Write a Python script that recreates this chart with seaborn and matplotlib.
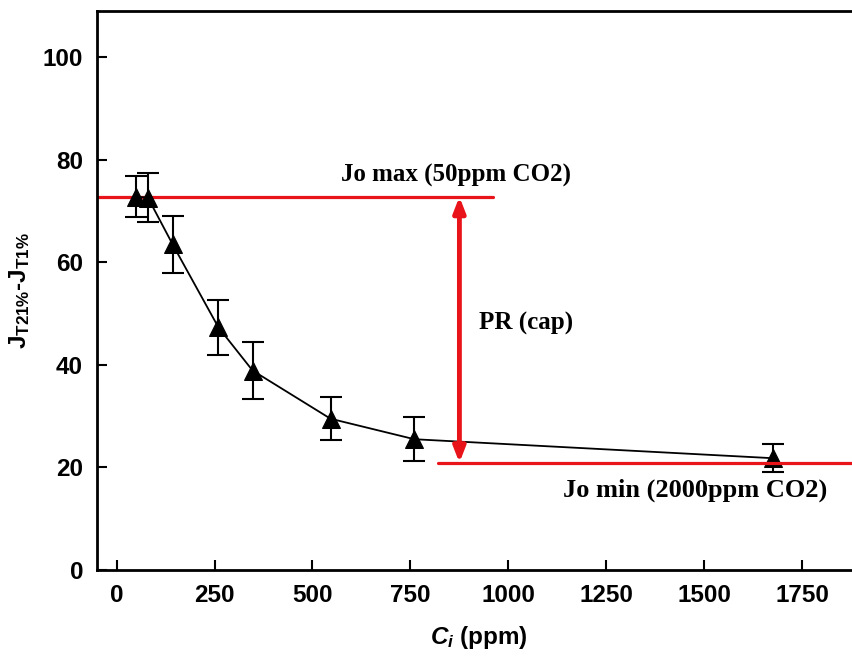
import numpy as np
import pandas as pd
import matplotlib
matplotlib.use('Agg')
import matplotlib.pyplot as plt
import seaborn as sns

# values
ci = [50, 80, 143, 260, 347, 546, 760, 1675]
j_diff = [72.8, 72.6, 63.5, 47.3, 38.9, 29.5, 25.5, 21.8]
j_err = [4.0, 4.8, 5.6, 5.4, 5.6, 4.2, 4.3, 2.7]
jo_max = 72.8
jo_min = 20.9
x_ticks = [0, 250, 500, 750, 1000, 1250, 1500, 1750]
y_ticks = [0, 20, 40, 60, 80, 100]

df = pd.DataFrame({'ci': ci, 'j': j_diff, 'err': j_err})

sns.set_style('ticks', {'text.color': 'black', 'axes.labelcolor': 'black',
                        'xtick.color': 'black', 'ytick.color': 'black',
                        'axes.edgecolor': 'black'})
plt.rcParams['font.family'] = ['Liberation Sans', 'DejaVu Sans']
plt.rcParams['mathtext.fontset'] = 'custom'
plt.rcParams['mathtext.rm'] = 'Liberation Sans:bold'
plt.rcParams['mathtext.bf'] = 'Liberation Sans:bold'
plt.rcParams['mathtext.it'] = 'Liberation Sans:bold:italic'

fig = plt.figure(figsize=(8.52, 6.58), dpi=100)
ax = fig.add_axes([97 / 852, 88 / 658, 764 / 852, 559 / 658])

ax.errorbar(df['ci'], df['j'], yerr=df['err'], fmt='none', ecolor='black',
            elinewidth=1.5, capsize=8, capthick=1.5, zorder=3)
sns.lineplot(data=df, x='ci', y='j', ax=ax, color='black', linewidth=1.3,
             marker='^', markersize=13, markeredgecolor='black', zorder=4)

# reference lines and arrow
red = '#e8141a'
ax.plot([-50, 962], [jo_max, jo_max], color=red, linewidth=2.3, zorder=2)
ax.plot([821, 1900], [jo_min, jo_min], color=red, linewidth=2.3, zorder=5)
ax.annotate('', xy=(875, jo_max), xytext=(875, jo_min),
            arrowprops=dict(arrowstyle='<|-|>,head_length=0.9,head_width=0.35', color=red,
                            lw=3.5, shrinkA=0, shrinkB=0), zorder=6)

serif = ['Liberation Serif', 'DejaVu Serif']
ax.text(867, 74.6, 'Jo max (50ppm CO2)', ha='center', va='bottom',
        fontsize=18, fontweight='bold', family=serif)
ax.text(926, 48.0, 'PR (cap)', ha='left', va='center',
        fontsize=18, fontweight='bold', family=serif)
ax.text(1477, 15.6, 'Jo min (2000ppm CO2)', ha='center', va='center',
        fontsize=19, fontweight='bold', family=serif)

ax.set_xlim(-50, 1900)
ax.set_ylim(0, 109)
ax.set_xticks(x_ticks)
ax.set_yticks(y_ticks)
ax.tick_params(direction='in', length=7, width=1.5, labelsize=17.5, pad=10)
for lab in ax.get_xticklabels() + ax.get_yticklabels():
    lab.set_fontweight('bold')
for s in ['left', 'bottom', 'top']:
    ax.spines[s].set_linewidth(2)
ax.spines['right'].set_visible(False)

ax.set_xlabel(r'$C_i$ (ppm)', fontsize=17.5, fontweight='bold', labelpad=12)
ax.set_ylabel(r'J$_{\mathregular{T21\%}}$-J$_{\mathregular{T1\%}}$', fontsize=17.5,
              fontweight='bold', labelpad=8)

fig.savefig('out.png', dpi=100)
